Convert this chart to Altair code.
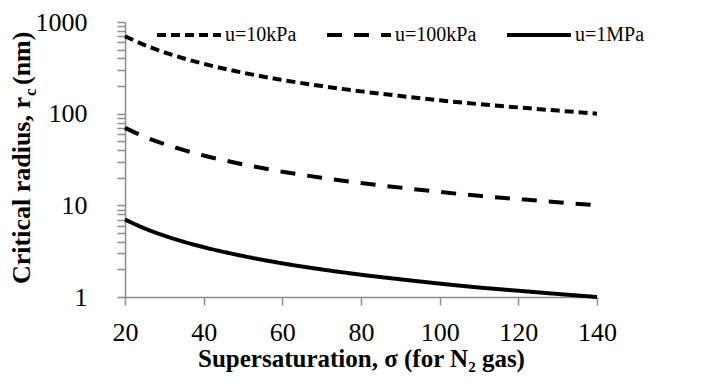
import altair as alt
import pandas as pd

sigma = [20, 25, 30, 35, 40, 50, 60, 70, 80, 90, 100, 110, 120, 130, 140]
r_10kPa = [700, 560, 467, 400, 350, 280, 233, 200, 175, 156, 140, 127, 117, 108, 100]
r_100kPa = [70, 56, 46.7, 40, 35, 28, 23.3, 20, 17.5, 15.6, 14, 12.7, 11.7, 10.8, 10]
r_1MPa = [7, 5.6, 4.67, 4.0, 3.5, 2.8, 2.33, 2.0, 1.75, 1.56, 1.4, 1.27, 1.17, 1.08, 1.0]
series = ["u=10kPa", "u=100kPa", "u=1MPa"]
x_ticks = [20, 40, 60, 80, 100, 120, 140]
y_ticks = [1, 2, 3, 4, 5, 6, 7, 8, 9,
           10, 20, 30, 40, 50, 60, 70, 80, 90,
           100, 200, 300, 400, 500, 600, 700, 800, 900, 1000]

rows = []
for name, vals in zip(series, [r_10kPa, r_100kPa, r_1MPa]):
    for s, v in zip(sigma, vals):
        rows.append({"sigma": s, "r": v, "u": name})
df = pd.DataFrame(rows)

FONT = "Liberation Serif"
AX = "#8c8c8c"

lines = alt.Chart(df).mark_line(color="black", strokeWidth=4, interpolate="monotone").encode(
    x=alt.X("sigma:Q", scale=alt.Scale(domain=[20, 140], nice=False),
            axis=alt.Axis(values=x_ticks, title="Supersaturation, σ (for N₂ gas)",
                          grid=False, tickSize=8, labelPadding=14, titlePadding=1,
                          labelFlush=False, labelFont=FONT, titleFont=FONT)),
    y=alt.Y("r:Q", scale=alt.Scale(type="log", domain=[1, 1000], nice=False),
            axis=alt.Axis(values=y_ticks, title=None, grid=False, tickSize=8, labelPadding=30,
                          labelFlush=False, labelFont=FONT, labelAlign="right",
                          labelExpr="(datum.value == 1 || datum.value == 10 || datum.value == 100 || datum.value == 1000) ? format(datum.value, 'd') : ''")),
    strokeDash=alt.StrokeDash("u:N", sort=series,
                              scale=alt.Scale(domain=series, range=[[9, 5], [15, 12], [1, 0]]),
                              legend=alt.Legend(title=None, orient="none", legendX=30, legendY=-21,
                                                direction="horizontal", symbolType="stroke",
                                                symbolSize=4096, symbolStrokeWidth=4,
                                                symbolStrokeColor="black",
                                                labelFontSize=20, labelFont=FONT, labelColor="black",
                                                columnPadding=22, labelOffset=2)),
    detail="u:N",
)

one = pd.DataFrame({"k": [0]})
t1 = alt.Chart(one).mark_text(text="Critical radius, r", angle=270, align="right", baseline="alphabetic",
                              font=FONT, fontSize=26, fontWeight="bold", color="black").encode(
    x=alt.value(-95), y=alt.value(75))
t2 = alt.Chart(one).mark_text(text="c", angle=270, align="left", baseline="alphabetic",
                              font=FONT, fontSize=17, fontWeight="bold", color="black").encode(
    x=alt.value(-89), y=alt.value(74))
t3 = alt.Chart(one).mark_text(text="(nm)", angle=270, align="left", baseline="alphabetic",
                              font=FONT, fontSize=26, fontWeight="bold", color="black").encode(
    x=alt.value(-95), y=alt.value(63))

chart = alt.layer(lines, t1, t2, t3).properties(
    width=472, height=275,
    autosize=alt.AutoSizeParams(type="none"),
    padding={"left": 117, "top": 14, "right": 105, "bottom": 80},
).configure(font=FONT).configure_view(strokeWidth=0).configure_axis(
    domainColor=AX, tickColor=AX, domainWidth=1.5, tickWidth=1.5,
    labelFont=FONT, labelFontSize=26, labelColor="black",
    titleFont=FONT, titleFontSize=25, titleFontWeight="bold", titleColor="black",
).configure_legend(labelFont=FONT)

chart.save("out.html", embed_options={"renderer": "svg", "actions": False})
